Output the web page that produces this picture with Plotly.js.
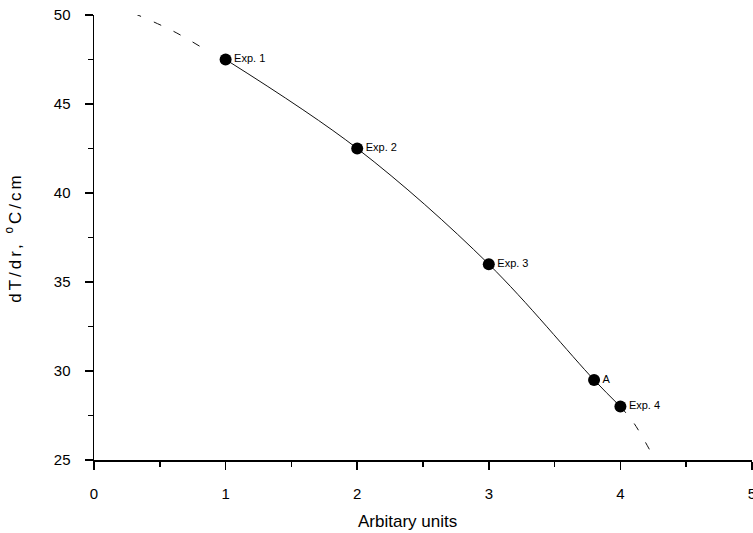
<!DOCTYPE html>
<html>
<head>
<meta charset="utf-8">
<script src="https://cdn.plot.ly/plotly-3.0.1.min.js"></script>
<style>html,body{margin:0;padding:0;background:#fff;}#chart{width:753px;height:533px;}</style>
</head>
<body>
<div id="chart"></div>
<script>
// Measured points
var pointX = [1.0, 2.0, 3.0, 3.8, 4.0];
var pointY = [47.5, 42.5, 36.0, 29.5, 28.0];
var pointLabels = ["Exp. 1", "Exp. 2", "Exp. 3", "A", "Exp. 4"];

// Dashed extrapolations
var upperDashX = [0.3, 0.6, 0.88];
var upperDashY = [50.1, 49.1, 47.9];
var lowerDashX = [4.0, 4.1, 4.22];
var lowerDashY = [28.0, 27.1, 25.6];

var xTicks = [0, 1, 2, 3, 4, 5];
var yTicks = [25, 30, 35, 40, 45, 50];

var font = "Liberation Sans, Arial, sans-serif";

var traces = [
  {x: pointX, y: pointY, mode: "lines", line: {color: "#111", width: 1, shape: "spline"}, hoverinfo: "skip"},
  {x: upperDashX, y: upperDashY, mode: "lines", line: {color: "#111", width: 1, shape: "spline", dash: "8px,14px"}, hoverinfo: "skip"},
  {x: lowerDashX, y: lowerDashY, mode: "lines", line: {color: "#111", width: 1, shape: "spline", dash: "8px,14px"}, hoverinfo: "skip"},
  {x: pointX, y: pointY, mode: "markers+text", text: pointLabels, textposition: "middle right",
   textfont: {family: font, size: 11, color: "#000"},
   marker: {color: "#000", size: 12}}
];

var layout = {
  width: 753, height: 533,
  margin: {l: 94, r: 1, t: 15, b: 73},
  paper_bgcolor: "#fff", plot_bgcolor: "#fff",
  showlegend: false,
  font: {family: font, color: "#000", size: 15},
  xaxis: {
    range: [0, 5], tickvals: xTicks, ticktext: xTicks.map(String),
    showgrid: false, zeroline: false, showline: true, linecolor: "#000", linewidth: 1.5,
    ticks: "outside", ticklen: 8, tickwidth: 1.5, tickcolor: "#000",
    minor: {dtick: 0.5, ticks: "outside", ticklen: 5, tickwidth: 1.5, tickcolor: "#000", showgrid: false},
    tickfont: {size: 15}, ticklabelstandoff: 11, ticklabeloverflow: "allow",
    automargin: false
  },
  yaxis: {
    range: [25, 50], tickvals: yTicks, ticktext: yTicks.map(String),
    showgrid: false, zeroline: false, showline: true, linecolor: "#000", linewidth: 1.5,
    ticks: "outside", ticklen: 8, tickwidth: 1.5, tickcolor: "#000",
    minor: {dtick: 2.5, ticks: "outside", ticklen: 5, tickwidth: 1.5, tickcolor: "#000", showgrid: false},
    tickfont: {size: 15}, ticklabelstandoff: 11,
    automargin: false,
    title: {text: "<span style=\"letter-spacing:3px\">dT/dr, <sup>o</sup>C/cm</span>", font: {size: 17}, standoff: 28}
  },
  annotations: [{
    text: "Arbitary units", xref: "paper", yref: "paper", x: 0.477, y: 0,
    xanchor: "center", yanchor: "middle", yshift: -61, showarrow: false,
    font: {family: font, size: 17, color: "#000"}
  }]
};

Plotly.newPlot("chart", traces, layout, {displayModeBar: false, staticPlot: true});
</script>
</body>
</html>
